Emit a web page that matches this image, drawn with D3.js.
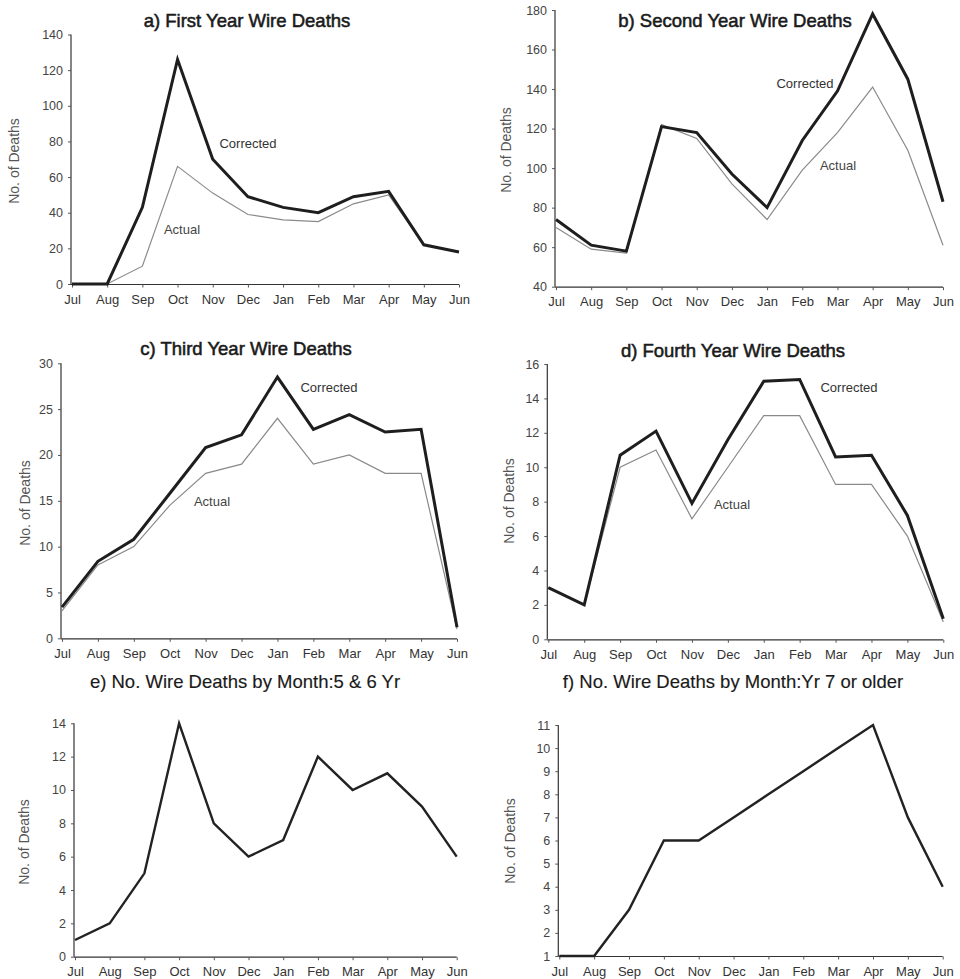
<!DOCTYPE html>
<html>
<head>
<meta charset="utf-8">
<script src="https://cdn.jsdelivr.net/npm/d3@7"></script>
<style>
  html, body { margin: 0; padding: 0; background: #fff; }
  svg { display: block; }
  text { font-family: "Liberation Sans", Arial, Helvetica, sans-serif; }
</style>
</head>
<body>
<svg id="chart" width="960" height="979"></svg>
<script>
// Months of the fledging year, July to June
const months = ["Jul", "Aug", "Sep", "Oct", "Nov", "Dec", "Jan", "Feb", "Mar", "Apr", "May", "Jun"];

// a) First year birds
const firstCorrected = [0, 0, 43, 126, 70, 49, 43, 40, 49, 52, 22, 18];
const firstActual    = [0, 0, 10, 66, 51, 39, 36, 35, 45, 50, 22, 18];

// b) Second year birds
const secondCorrected = [74, 61, 58, 121, 118, 97, 80, 114, 139, 178, 145, 83];
const secondActual    = [70, 59, 57, 122, 115, 92, 74, 99, 118, 141, 109, 61];

// c) Third year birds
const thirdCorrected = [3.4, 8.4, 10.8, 15.8, 20.8, 22.2, 28.5, 22.8, 24.4, 22.5, 22.8, 1.2];
const thirdActual    = [3, 8, 10, 14.5, 18, 19, 24, 19, 20, 18, 18, 1];

// d) Fourth year birds
const fourthCorrected = [3, 2, 10.7, 12.1, 7.9, 11.6, 15, 15.1, 10.6, 10.7, 7.2, 1.2];
const fourthActual    = [3, 2, 10, 11, 7, 10, 13, 13, 9, 9, 6, 1];

// e) Five and six year olds
const fiveSixDeaths = [1, 2, 5, 14, 8, 6, 7, 12, 10, 11, 9, 6];

// f) Seven years or older
const sevenPlusDeaths = [1, 1, 3, 6, 6, 7, 8, 9, 10, 11, 7, 4];

// Y tick values per panel
const ticksA = [0, 20, 40, 60, 80, 100, 120, 140];
const ticksB = [40, 60, 80, 100, 120, 140, 160, 180];
const ticksC = [0, 5, 10, 15, 20, 25, 30];
const ticksD = [0, 2, 4, 6, 8, 10, 12, 14, 16];
const ticksE = [0, 2, 4, 6, 8, 10, 12, 14];
const ticksF = [1, 2, 3, 4, 5, 6, 7, 8, 9, 10, 11];

const svg = d3.select("#chart");

const panels = [
  { title: "a) First Year Wire Deaths", tx: 247, ty: 27, x0: 72, x1: 459, y0: 284, y1: 34.5,
    domain: [0, 140], ticks: ticksA, ylabX: 19, ylabY: 161,
    corrected: firstCorrected, actual: firstActual,
    cLab: [248, 148], aLab: [182, 234] },
  { title: "b) Second Year Wire Deaths", tx: 735, ty: 27, x0: 556, x1: 943, y0: 286.7, y1: 10,
    domain: [40, 180], ticks: ticksB, ylabX: 511, ylabY: 150,
    corrected: secondCorrected, actual: secondActual,
    cLab: [805, 88], aLab: [838, 170] },
  { title: "c) Third Year Wire Deaths", tx: 246, ty: 355, x0: 62, x1: 457, y0: 638.3, y1: 363.3,
    domain: [0, 30], ticks: ticksC, ylabX: 30, ylabY: 503,
    corrected: thirdCorrected, actual: thirdActual,
    cLab: [329, 392], aLab: [212, 506] },
  { title: "d) Fourth Year Wire Deaths", tx: 733, ty: 357, x0: 548.3, x1: 943.3, y0: 639.3, y1: 364,
    domain: [0, 16], ticks: ticksD, ylabX: 514, ylabY: 501,
    corrected: fourthCorrected, actual: fourthActual,
    cLab: [849, 392], aLab: [732, 509] },
  { title: "e) No. Wire Deaths by Month:5 & 6 Yr", tx: 245, ty: 688, x0: 75, x1: 456.7, y0: 956.7, y1: 723.3,
    domain: [0, 14], ticks: ticksE, ylabX: 29, ylabY: 842,
    single: fiveSixDeaths },
  { title: "f) No. Wire Deaths by Month:Yr 7 or older", tx: 733, ty: 688, x0: 559.3, x1: 942.7, y0: 956, y1: 725,
    domain: [1, 11], ticks: ticksF, ylabX: 515, ylabY: 841,
    single: sevenPlusDeaths }
];

panels.forEach(p => {
  const g = svg.append("g");

  const x = d3.scalePoint().domain(months).range([p.x0, p.x1]);
  const y = d3.scaleLinear().domain(p.domain).range([p.y0, p.y1]);

  // Title
  g.append("text")
    .attr("x", p.tx).attr("y", p.ty)
    .attr("text-anchor", "middle")
    .attr("font-size", 18.5)
    .attr("fill", "#1a1a1a")
    .attr("stroke", "#1a1a1a")
    .attr("stroke-width", p.single ? 0.15 : 0.55)
    .text(p.title);

  // Y axis
  const yAxis = d3.axisLeft(y).tickValues(p.ticks).tickSize(3).tickPadding(5).tickFormat(d3.format("d"));
  const ya = g.append("g").attr("transform", `translate(${p.x0 - 1},0)`).call(yAxis);
  ya.select(".domain").attr("stroke", "#333").attr("stroke-width", 1.2).attr("d", `M0,${p.y0}V${p.y1}`);
  ya.selectAll(".tick line").attr("stroke", "#555");
  ya.selectAll(".tick text").attr("font-size", 12.5).attr("fill", "#444")
    .attr("font-family", "'Liberation Sans', Arial, sans-serif");

  // X axis
  const xAxis = d3.axisBottom(x).tickSize(3).tickPadding(7);
  const xa = g.append("g").attr("transform", `translate(0,${p.y0 + 0.5})`).call(xAxis);
  xa.select(".domain").attr("stroke", "#333").attr("stroke-width", 1.2).attr("d", `M${p.x0 - 1},0H${p.x1}`);
  xa.selectAll(".tick line").attr("stroke", "#555");
  xa.selectAll(".tick text").attr("font-size", 13).attr("fill", "#333")
    .attr("font-family", "'Liberation Sans', Arial, sans-serif");

  // Y axis title
  g.append("text")
    .attr("transform", `translate(${p.ylabX},${p.ylabY}) rotate(-90)`)
    .attr("text-anchor", "middle")
    .attr("font-size", 14)
    .attr("fill", "#555")
    .text("No. of Deaths");

  const line = d3.line()
    .x((d, i) => x(months[i]))
    .y(d => y(d));

  if (p.single) {
    g.append("path").datum(p.single)
      .attr("d", line)
      .attr("fill", "none")
      .attr("stroke", "#222")
      .attr("stroke-width", 2.4)
      .attr("stroke-linejoin", "miter");
  } else {
    g.append("path").datum(p.actual)
      .attr("d", line)
      .attr("fill", "none")
      .attr("stroke", "#8a8a8a")
      .attr("stroke-width", 1.2);
    g.append("path").datum(p.corrected)
      .attr("d", line)
      .attr("fill", "none")
      .attr("stroke", "#1e1e1e")
      .attr("stroke-width", 3)
      .attr("stroke-linejoin", "miter");

    g.append("text")
      .attr("x", p.cLab[0]).attr("y", p.cLab[1])
      .attr("text-anchor", "middle")
      .attr("font-size", 13)
      .attr("fill", "#333")
      .text("Corrected");
    g.append("text")
      .attr("x", p.aLab[0]).attr("y", p.aLab[1])
      .attr("text-anchor", "middle")
      .attr("font-size", 13)
      .attr("fill", "#444")
      .text("Actual");
  }
});
</script>
</body>
</html>
